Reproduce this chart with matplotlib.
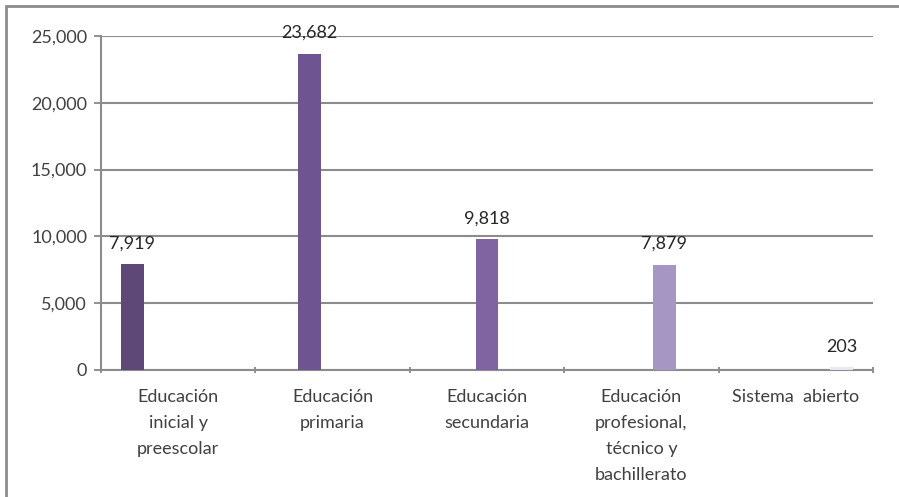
import numpy as np
import matplotlib
matplotlib.use('Agg')
import matplotlib.pyplot as plt
from matplotlib.patches import Rectangle

categories = ['Educación\ninicial y\npreescolar', 'Educación\nprimaria', 'Educación\nsecundaria',
              'Educación\nprofesional,\ntécnico y\nbachillerato', 'Sistema  abierto']
values = [7919, 23682, 9818, 7879, 203]
value_labels = ['7,919', '23,682', '9,818', '7,879', '203']
colors = ['#5d4878', '#6e5592', '#8064a2', '#a696c3', '#ebe6f2']
yticks = [0, 5000, 10000, 15000, 20000, 25000]
ytick_labels = ['0', '5,000', '10,000', '15,000', '20,000', '25,000']

plt.rcParams['font.family'] = ['Lato', 'DejaVu Sans']
fig = plt.figure(figsize=(8.99, 4.97), dpi=100)
ax = fig.add_axes([101/899, 1-370/497, (873-101)/899, (370-36)/497])

n = len(values)
width = 0.148
gap = (1 - n*width) / 2
x = np.arange(n)
for i in range(n):
    # clustered layout: series i sits at slot i inside its own category
    pos = i + gap + width*(i + 0.5)
    ax.bar(pos, values[i], width=width, color=colors[i], zorder=3)
    ax.text(pos, values[i] + 950, value_labels[i], ha='center', va='bottom',
            fontsize=13, color='#262626', zorder=4)

ax.set_xlim(0, n)
ax.set_ylim(0, 25000)
ax.set_yticks(yticks)
ax.set_yticklabels(ytick_labels, fontsize=13, color='#404040')
ax.set_xticks(np.arange(n+1))
ax.set_xticklabels([])
ax.set_xticks(x + 0.5, minor=True)
ax.set_xticklabels(categories, minor=True, fontsize=13, color='#404040', linespacing=1.75)
ax.tick_params(axis='x', which='minor', length=0, pad=14)
ax.tick_params(axis='x', which='major', length=5, color='#888888', width=1.3, direction='inout')
ax.tick_params(axis='y', length=5, color='#888888', width=1.3, pad=5)
ax.grid(axis='y', color='#8c8c8c', linewidth=1.5, zorder=0)
for s in ['top', 'right']:
    ax.spines[s].set_visible(False)
for s in ['left', 'bottom']:
    ax.spines[s].set_color('#8c8c8c')
    ax.spines[s].set_linewidth(1.5)

fig.patches.append(Rectangle((6/899, -0.1), 1.2, 1 - 6/497 + 0.1, transform=fig.transFigure,
                             fill=False, edgecolor='#8c8c8c', linewidth=2))
plt.savefig('out.png', dpi=100)
